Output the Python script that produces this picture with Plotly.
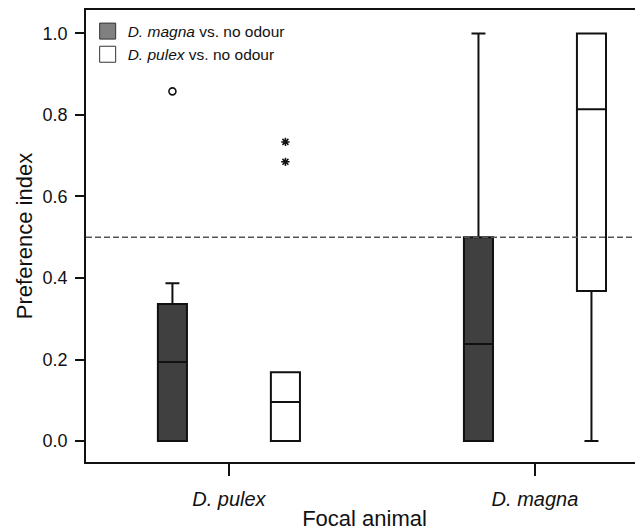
import plotly.graph_objects as go

# ---- data ----
categories = ["D. pulex", "D. magna"]
series_names = ["<i>D. magna</i> vs. no odour", "<i>D. pulex</i> vs. no odour"]

# per series, per category
q1_vals = [[0.0, 0.0], [0.0, 0.368]]
median_vals = [[0.194, 0.238], [0.096, 0.814]]
q3_vals = [[0.336, 0.5], [0.169, 1.0]]
lower_vals = [[0.0, 0.0], [0.0, 0.0]]
upper_vals = [[0.387, 1.0], [0.169, 1.0]]

# outliers: (category index, value)
outliers_magna = [(0, 0.858)]
outliers_pulex = [(0, 0.734), (0, 0.685)]

reference_line = 0.5
y_ticks = [0.0, 0.2, 0.4, 0.6, 0.8, 1.0]

# ---- styling ----
FONT = "Liberation Sans, Arial, sans-serif"
fills = ["#404040", "#ffffff"]
legend_fills = ["#808080", "#ffffff"]
offsets = [-0.1846, 0.1846]
box_width = 0.095

fig = go.Figure()

for s in range(2):
    xs = [i + offsets[s] for i in range(len(categories))]
    fig.add_trace(go.Box(
        x=xs,
        q1=q1_vals[s], median=median_vals[s], q3=q3_vals[s],
        lowerfence=lower_vals[s], upperfence=upper_vals[s],
        width=box_width, whiskerwidth=0.48,
        fillcolor=fills[s],
        line=dict(color="#111111", width=2),
        showlegend=False, orientation="v",
    ))

# outliers
fig.add_trace(go.Scatter(
    x=[c + offsets[0] for c, v in outliers_magna],
    y=[v for c, v in outliers_magna],
    mode="markers",
    marker=dict(symbol="circle-open", size=7, color="#111111", line=dict(width=1.6, color="#111111")),
    showlegend=False,
))
fig.add_trace(go.Scatter(
    x=[c + offsets[1] for c, v in outliers_pulex],
    y=[v for c, v in outliers_pulex],
    mode="markers",
    marker=dict(symbol="asterisk-open", size=7, color="#111111", line=dict(width=1.5, color="#111111")),
    showlegend=False,
))

# legend entries
for s in range(2):
    fig.add_trace(go.Scatter(
        x=[None], y=[None], mode="markers", name=series_names[s],
        marker=dict(symbol="square", size=16, color=legend_fills[s],
                    line=dict(color="#333333", width=1)),
    ))

fig.add_shape(type="line", xref="paper", x0=0, x1=1, yref="y",
              y0=reference_line, y1=reference_line,
              line=dict(color="#555555", width=1.5, dash="6px,3px"))

# page body has an 8px margin, so the figure is sized/margined to compensate
fig.update_layout(
    width=635, height=523,
    margin=dict(l=78, r=0, t=2, b=69),
    paper_bgcolor="white", plot_bgcolor="white",
    font=dict(family=FONT, color="#111111"),
    showlegend=True,
    legend=dict(x=0.003, y=0.99, xanchor="left", yanchor="top",
                font=dict(size=15.5, family=FONT), bgcolor="rgba(0,0,0,0)",
                tracegroupgap=0, itemwidth=30),
    xaxis=dict(
        range=[-0.467, 1.353],
        tickvals=list(range(len(categories))),
        ticktext=["<i>%s</i>" % c for c in categories],
        tickfont=dict(size=20),
        ticks="outside", ticklen=12, tickwidth=1.5, tickcolor="#111111",
        ticklabelstandoff=6,
        showline=True, linecolor="#111111", linewidth=1.5, mirror=True,
        showgrid=False, zeroline=False,
        title=dict(text="Focal animal", font=dict(size=22), standoff=4),
        automargin=False,
    ),
    yaxis=dict(
        range=[-0.0515, 1.0576],
        tickvals=y_ticks, tickformat=".1f",
        tickfont=dict(size=18),
        ticks="outside", ticklen=9, tickwidth=1.5, tickcolor="#111111",
        ticklabelstandoff=4,
        showline=True, linecolor="#111111", linewidth=1.5,
        showgrid=False, zeroline=False,
        title=dict(text="Preference index", font=dict(size=22), standoff=4),
        automargin=False,
    ),
)

fig.write_html("out.html")
